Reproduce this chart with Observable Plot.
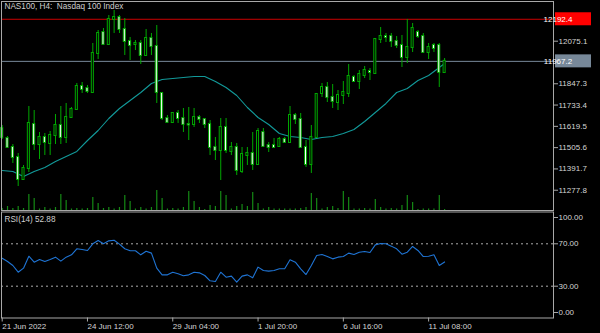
<!DOCTYPE html>
<html><head><meta charset="utf-8">
<script src="https://cdn.jsdelivr.net/npm/d3@7"></script>
<script src="https://cdn.jsdelivr.net/npm/@observablehq/plot@0.6"></script>
<style>
html,body{margin:0;padding:0;background:#000;}
#chart{position:relative;width:600px;height:333px;background:#000;overflow:hidden;}
#chart svg{position:absolute;left:0;}
</style></head>
<body><div id="chart"></div>
<script>
// ---- data (NAS100, H4) ----
const open = [11608.0,11554.5,11506.4,11452.9,11335.2,11394.0,11629.4,11522.4,11559.9,11527.8,
11570.6,11624.1,11559.9,11666.9,11709.7,11832.7,11822.0,11800.6,12009.3,12121.6,
12057.4,12191.2,12201.8,12137.7,12073.5,12057.4,12062.8,11998.6,12089.5,12046.7,
11795.3,11661.5,11640.1,11688.3,11661.5,11629.4,11629.4,11666.9,11656.2,11629.4,
11506.4,11490.3,11613.4,11485.0,11506.4,11378.0,11463.6,11474.3,11415.4,11586.6,
11517.1,11517.1,11511.7,11549.2,11533.1,11677.6,11656.2,11506.4,11415.4,11559.9,
11795.3,11827.4,11773.9,11747.1,11784.6,11795.3,11880.9,11859.5,11891.6,11913.0,
11902.3,12084.2,12100.2,12100.2,12073.5,12052.1,11987.9,12041.4,12121.6,12100.2,
12014.6,12052.1,12052.1,11907.6];
const high = [11624.1,11565.2,11522.4,11474.3,11410.1,11725.7,11704.3,11586.6,11581.3,11592.0,
11682.9,11725.7,11741.8,11720.4,11848.8,11854.1,11838.1,12062.8,12132.3,12143.0,
12212.6,12239.3,12212.6,12196.5,12094.9,12078.8,12078.8,12137.7,12116.3,12159.1,
11800.6,11677.6,11693.6,11704.3,11715.0,11720.4,11715.0,11677.6,11661.5,11650.8,
11559.9,11661.5,11661.5,11533.1,11527.8,11506.4,11506.4,11586.6,11608.0,11608.0,
11533.1,11554.5,11559.9,11559.9,11725.7,11688.3,11688.3,11543.8,11624.1,11795.3,
11848.8,11854.1,11843.4,11811.3,11859.5,11950.4,11891.6,11918.3,11939.7,11929.0,
12089.5,12148.4,12116.3,12116.3,12100.2,12105.6,12191.2,12169.8,12132.3,12116.3,
12062.8,12062.8,12062.8,11982.5];
const low = [11549.2,11501.0,11420.8,11297.7,11329.8,11372.6,11490.3,11442.2,11463.6,11463.6,
11522.4,11522.4,11527.8,11661.5,11704.3,11795.3,11795.3,11800.6,11977.2,12052.1,
12052.1,12116.3,12116.3,11998.6,11971.8,12025.3,11950.4,11993.2,11998.6,11741.8,
11650.8,11634.8,11634.8,11634.8,11586.6,11543.8,11613.4,11634.8,11608.0,11463.6,
11436.8,11329.8,11474.3,11463.6,11356.6,11367.3,11410.1,11383.3,11410.1,11506.4,
11479.6,11501.0,11506.4,11527.8,11533.1,11629.4,11501.0,11399.4,11367.3,11559.9,
11773.9,11747.1,11715.0,11704.3,11736.4,11773.9,11854.1,11816.7,11875.5,11864.8,
11896.9,12062.8,12068.1,12041.4,12036.0,11934.4,11955.8,12014.6,12089.5,12009.3,
11977.2,12014.6,11827.4,11902.3];
const close = [11559.9,11506.4,11452.9,11335.2,11394.0,11634.8,11522.4,11559.9,11533.1,11570.6,
11624.1,11559.9,11666.9,11709.7,11832.7,11816.7,11806.0,12009.3,12116.3,12057.4,
12191.2,12201.8,12137.7,12073.5,12052.1,12062.8,11998.6,12089.5,12046.7,11800.6,
11661.5,11640.1,11688.3,11661.5,11629.4,11627.0,11666.9,11656.2,11629.4,11506.4,
11490.3,11613.4,11490.3,11506.4,11383.3,11468.9,11474.3,11415.4,11592.0,11511.7,
11506.4,11506.4,11549.2,11533.1,11677.6,11656.2,11506.4,11415.4,11559.9,11789.9,
11827.4,11773.9,11752.5,11784.6,11800.6,11886.2,11859.5,11896.9,11918.3,11907.6,
12084.2,12100.2,12094.9,12073.5,12052.1,11987.9,12041.4,12143.0,12100.2,12014.6,
12041.4,12036.0,11907.6,11967.2];
const volume = [2000,4000,2000,4000,2000,16000,12000,1500,3000,1500,
3000,16000,10000,1500,2000,1500,2000,13000,7000,2000,
3000,1500,3000,15000,9000,1500,3000,1500,3000,20000,
12000,1500,2000,1500,3000,19000,9000,3000,1000,5000,
4000,19000,15000,1500,4000,6000,4000,18000,7000,1500,
3000,1500,1500,1500,1500,1500,2000,3000,17000,12000,
1500,3000,4000,2000,19000,13000,1500,1500,2000,1500,
11000,3000,1500,2000,1500,5000,15000,8000,1000,1500,
1500,1500,15000,1000];
const maIdx = [0,2,4,6,8,10,12,14,16,18,20,22,24,26,28,30,32,34,36,38,40,
42,44,46,48,50,52,54,56,58,60,62,64,66,68,70,72,74,76,78,80,82,83];
const maVal = [11383.3,11377.9,11351.2,11377.9,11399.4,11431.5,11458.2,11485.0,11543.8,11597.3,
11661.5,11715.0,11757.8,11800.6,11848.8,11870.2,11875.5,11880.9,11886.2,11886.2,
11859.5,11827.4,11784.6,11720.4,11666.9,11629.4,11581.3,11565.2,11559.9,11549.2,
11559.9,11565.2,11581.3,11602.7,11645.5,11693.6,11741.8,11800.6,11822.0,11864.8,
11891.6,11934.4,11955.8];
const rsi = [56.4,53.3,49.5,43.2,47.0,58.3,52.7,55.2,53.3,55.2,
57.4,53.6,57.4,59.6,65.3,64.6,63.7,70.0,73.1,70.0,
72.8,73.4,69.7,65.3,63.4,63.4,59.6,63.0,61.2,47.0,
40.7,40.7,43.2,41.7,39.8,40.7,43.2,42.6,40.1,35.1,
34.4,43.2,38.5,39.5,33.8,39.5,40.7,37.9,48.0,44.8,
44.2,44.8,46.4,46.4,54.9,52.7,46.4,41.0,49.5,59.0,
59.9,58.0,55.8,57.4,58.0,61.2,59.9,62.1,62.7,61.8,
69.0,70.3,70.0,67.8,65.3,60.2,62.1,67.5,63.7,58.0,
58.3,59.6,49.5,52.88];
const priceTicks = [12075.1,11847.3,11733.4,11619.5,11505.6,11391.7,11277.8];
const redLevel = 12192.4;
const bidLevel = 11967.2;
const rsiLevels = [70,30];
const dateTickIdx = [0,16,32,48,64,80];
const dateTickLabels = ["21 Jun 2022","24 Jun 12:00","29 Jun 04:00","1 Jul 20:00","6 Jul 16:00","11 Jul 08:00"];
const titleText = "NAS100, H4:\u00a0 Nasdaq 100 Index";
const rsiTitle = "RSI(14) 52.88";

// ---- chart ----
const FONT = "Liberation Sans, Arial, sans-serif";
const GREEN = "#00a800";
const VOLGREEN = "#158a15";
const FG = "#d4d4d4";
const GRID = "#a8a8a8";
const xDom = [-0.131, 103.43];
const candles = close.map((c, i) => ({i, o: open[i], h: high[i], l: low[i], c}));
const labelMap = new Map(dateTickIdx.map((d, k) => [d, dateTickLabels[k]]));
const style = {background: "transparent", color: FG, fontFamily: FONT, fontSize: "8px", overflow: "visible"};
const common = {width: 600, marginLeft: 1, marginRight: 47, x: {domain: xDom, axis: null}, style};

const chart = document.getElementById("chart");

const volPlot = Plot.plot({
  ...common, height: 211, marginTop: 1, marginBottom: 1,
  y: {domain: [0, 208000], axis: null},
  marks: [
    Plot.ruleX(volume, {x: (d, i) => i, y1: 0, y2: d => d, stroke: VOLGREEN, strokeWidth: 1.2})
  ]
});
volPlot.style.top = "0px";
chart.appendChild(volPlot);

const pricePlot = Plot.plot({
  ...common, height: 211, marginTop: 1, marginBottom: 1,
  y: {domain: [11169.3, 12287.45], axis: null},
  marks: [
    Plot.ruleY([bidLevel], {stroke: "#778899"}),
    Plot.ruleY([redLevel], {stroke: "#cc0000"}),
    Plot.line(maIdx, {x: d => d, y: (d, k) => maVal[k], stroke: "#129a9a", strokeWidth: 1.1}),
    Plot.ruleX(candles, {x: "i", y1: "l", y2: "h", stroke: GREEN, strokeWidth: 1}),
    Plot.rect(candles, {x1: d => d.i - 0.19, x2: d => d.i + 0.19, y1: "o", y2: "c",
      insetTop: -0.5, insetBottom: -0.5,
      fill: d => d.c >= d.o ? "black" : "white", stroke: GREEN, strokeWidth: 1}),
    Plot.axisY(priceTicks, {anchor: "right", tickSize: 4, tickPadding: 1, fontSize: 8,
      tickFormat: d => d.toFixed(1), stroke: GRID, fill: FG}),
    Plot.frame({stroke: GRID}),
    Plot.text([titleText], {frameAnchor: "top-left", dx: 3, dy: 2, lineAnchor: "top",
      fontSize: 8.2, fill: "#cfcfcf"})
  ]
});
pricePlot.style.top = "0px";
chart.appendChild(pricePlot);

// price labels on the right axis (positioned by Plot's scales)
const ySc = pricePlot.scale("y");
const xEnd = pricePlot.scale("x").range[1];
const svgSel = d3.select(pricePlot);
[[redLevel, "#ff0000"], [bidLevel, "#778899"]].forEach(([v, col]) => {
  const yy = ySc.apply(v);
  const g = svgSel.append("g");
  g.append("rect").attr("x", xEnd + 2).attr("y", yy - 6.5).attr("width", 36).attr("height", 13).attr("fill", col);
  g.append("text").attr("x", xEnd + 5).attr("y", yy).attr("dy", "0.35em")
    .attr("fill", "white").attr("font-size", 8).attr("font-family", FONT).text(v.toFixed(1));
});

const rsiPlot = Plot.plot({
  ...common, height: 123, marginTop: 1.5, marginBottom: 15.5,
  y: {domain: [0, 100], axis: null},
  marks: [
    Plot.ruleY(rsiLevels, {stroke: "#bdbdbd", strokeDasharray: "2,3", strokeWidth: 0.9}),
    Plot.line(rsi, {x: (d, i) => i, y: d => d, stroke: "#1f74d4", strokeWidth: 1.1}),
    Plot.axisY(rsiLevels, {anchor: "right", tickSize: 4, tickPadding: 1, fontSize: 8,
      tickFormat: d => d.toFixed(2), stroke: GRID, fill: FG}),
    Plot.axisY([100], {anchor: "right", tickSize: 4, tickPadding: 1, fontSize: 8, dy: 5.5,
      tickFormat: d => d.toFixed(2), stroke: GRID, fill: FG}),
    Plot.axisY([0], {anchor: "right", tickSize: 4, tickPadding: 1, fontSize: 8, dy: -5.5,
      tickFormat: d => d.toFixed(2), stroke: GRID, fill: FG}),
    Plot.axisX(dateTickIdx, {anchor: "bottom", tickSize: 4, tickPadding: 1, fontSize: 8,
      textAnchor: "start", tickFormat: d => labelMap.get(d), stroke: GRID, fill: FG}),
    Plot.frame({stroke: GRID}),
    Plot.text([rsiTitle], {frameAnchor: "top-left", dx: 3, dy: 4, lineAnchor: "top",
      fontSize: 8.2, fill: "#cfcfcf"})
  ]
});
rsiPlot.style.top = "210px";
chart.appendChild(rsiPlot);
</script>
</body></html>
